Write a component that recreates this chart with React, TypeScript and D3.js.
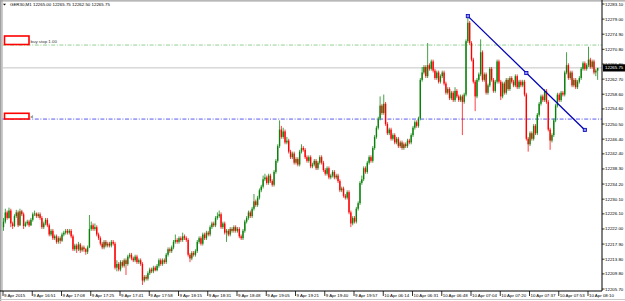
import React from 'react';
import * as d3 from 'd3';

const W = 625;
const H = 301;

const title = 'GER30,M1  12265.00 12265.75 12262.50 12265.75';

const opens = [
12222.5, 12224.0, 12226.5, 12225.0, 12227.0, 12223.5, 12222.8, 12225.5, 12226.5, 12223.0,
12226.8, 12226.0, 12222.8, 12223.5, 12224.0, 12223.0, 12224.5, 12226.0, 12226.2, 12225.5,
12226.0, 12225.0, 12222.5, 12223.5, 12224.5, 12223.0, 12220.5, 12221.5, 12219.5, 12220.0,
12218.5, 12219.5, 12218.8, 12220.5, 12221.0, 12221.5, 12221.0, 12221.5, 12220.0, 12216.5,
12217.5, 12216.5, 12217.8, 12216.2, 12217.0, 12216.5, 12215.8, 12217.0, 12222.0, 12223.0,
12222.0, 12222.5, 12220.5, 12219.5, 12218.0, 12217.0, 12218.5, 12217.5, 12218.0, 12217.5,
12218.5, 12218.0, 12211.5, 12212.5, 12211.0, 12213.0, 12212.0, 12213.5, 12212.5, 12214.5,
12215.0, 12214.0, 12213.5, 12214.5, 12213.0, 12213.5, 12212.5, 12208.0, 12209.0, 12208.5,
12210.0, 12211.0, 12210.5, 12211.5, 12210.8, 12212.0, 12213.5, 12212.5, 12213.5, 12213.0,
12215.0, 12216.5, 12216.0, 12217.0, 12218.5, 12219.0, 12218.5, 12219.5, 12219.0, 12220.0,
12219.5, 12219.0, 12215.0, 12214.0, 12215.5, 12215.0, 12216.0, 12218.5, 12219.5, 12218.0,
12220.5, 12219.5, 12221.0, 12220.5, 12222.5, 12223.5, 12223.0, 12225.0, 12225.5, 12226.0,
12222.5, 12223.5, 12221.0, 12221.5, 12220.5, 12222.0, 12221.5, 12222.5, 12221.5, 12222.0,
12220.0, 12219.5, 12221.5, 12224.0, 12225.0, 12226.5, 12225.5, 12227.5, 12229.5, 12228.5,
12230.5, 12232.5, 12233.5, 12235.5, 12236.0, 12234.5, 12236.5, 12235.0, 12234.0, 12237.5,
12240.5, 12244.5, 12249.0, 12247.0, 12248.5, 12245.5, 12246.0, 12243.0, 12241.5, 12242.5,
12240.0, 12241.0, 12239.5, 12243.0, 12244.0, 12243.5, 12241.5, 12240.5, 12241.5, 12239.0,
12239.5, 12240.5, 12238.5, 12240.0, 12241.5, 12240.0, 12238.0, 12237.0, 12238.5, 12236.0,
12236.5, 12237.5, 12236.0, 12236.5, 12235.0, 12232.5, 12233.0, 12231.0, 12230.5, 12232.0,
12226.5, 12223.5, 12225.0, 12224.0, 12227.5, 12229.0, 12234.5, 12235.5, 12238.5, 12237.5,
12240.0, 12241.5, 12240.5, 12244.0, 12247.0, 12249.5, 12252.0, 12255.5, 12253.5, 12256.0,
12250.5, 12248.0, 12249.0, 12246.5, 12247.5, 12245.5, 12246.5, 12244.5, 12245.5, 12244.0,
12245.0, 12244.5, 12246.0, 12245.5, 12247.5, 12249.5, 12251.0, 12250.0, 12252.0, 12262.5,
12264.5, 12266.0, 12263.5, 12266.5, 12265.5, 12267.5, 12265.0, 12263.0, 12264.5, 12262.0,
12263.5, 12264.5, 12261.5, 12259.0, 12260.0, 12257.5, 12259.0, 12257.0, 12259.5, 12258.0,
12257.0, 12258.0, 12256.5, 12258.5, 12273.0, 12278.0, 12272.5, 12268.0, 12262.0, 12258.0,
12262.5, 12264.0, 12270.0, 12262.5, 12264.0, 12259.0, 12261.0, 12265.5, 12262.5, 12259.5,
12262.0, 12267.5, 12262.0, 12258.0, 12261.5, 12259.0, 12262.5, 12260.0, 12263.0, 12262.0,
12261.0, 12263.5, 12260.5, 12262.0, 12261.0, 12262.0, 12258.5, 12246.5, 12245.0, 12248.0,
12246.5, 12250.0, 12248.0, 12253.0, 12256.0, 12258.0, 12257.0, 12259.5, 12256.5, 12249.0,
12246.0, 12247.5, 12251.5, 12255.5, 12258.5, 12257.0, 12259.0, 12258.5, 12264.5, 12266.5,
12263.0, 12264.5, 12261.0, 12262.5, 12260.5, 12262.0, 12263.0, 12265.5, 12267.0, 12265.5,
12266.5, 12268.0, 12266.0, 12267.5, 12264.5, 12265.0,
];

const closes = [
12224.0, 12226.5, 12225.0, 12227.0, 12223.5, 12222.8, 12225.5, 12226.5, 12223.0, 12226.8,
12226.0, 12222.8, 12223.5, 12224.0, 12223.0, 12224.5, 12226.0, 12226.2, 12225.5, 12226.0,
12225.0, 12222.5, 12223.5, 12224.5, 12223.0, 12220.5, 12221.5, 12219.5, 12220.0, 12218.5,
12219.5, 12218.8, 12220.5, 12221.0, 12221.5, 12221.0, 12221.5, 12220.0, 12216.5, 12217.5,
12216.5, 12217.8, 12216.2, 12217.0, 12216.5, 12215.8, 12217.0, 12222.0, 12223.0, 12222.0,
12222.5, 12220.5, 12219.5, 12218.0, 12217.0, 12218.5, 12217.5, 12218.0, 12217.5, 12218.5,
12218.0, 12211.5, 12212.5, 12211.0, 12213.0, 12212.0, 12213.5, 12212.5, 12214.5, 12215.0,
12214.0, 12213.5, 12214.5, 12213.0, 12213.5, 12212.5, 12208.0, 12209.0, 12208.5, 12210.0,
12211.0, 12210.5, 12211.5, 12210.8, 12212.0, 12213.5, 12212.5, 12213.5, 12213.0, 12215.0,
12216.5, 12216.0, 12217.0, 12218.5, 12219.0, 12218.5, 12219.5, 12219.0, 12220.0, 12219.5,
12219.0, 12215.0, 12214.0, 12215.5, 12215.0, 12216.0, 12218.5, 12219.5, 12218.0, 12220.5,
12219.5, 12221.0, 12220.5, 12222.5, 12223.5, 12223.0, 12225.0, 12225.5, 12226.0, 12222.5,
12223.5, 12221.0, 12221.5, 12220.5, 12222.0, 12221.5, 12222.5, 12221.5, 12222.0, 12220.0,
12219.5, 12221.5, 12224.0, 12225.0, 12226.5, 12225.5, 12227.5, 12229.5, 12228.5, 12230.5,
12232.5, 12233.5, 12235.5, 12236.0, 12234.5, 12236.5, 12235.0, 12234.0, 12237.5, 12240.5,
12244.5, 12249.0, 12247.0, 12248.5, 12245.5, 12246.0, 12243.0, 12241.5, 12242.5, 12240.0,
12241.0, 12239.5, 12243.0, 12244.0, 12243.5, 12241.5, 12240.5, 12241.5, 12239.0, 12239.5,
12240.5, 12238.5, 12240.0, 12241.5, 12240.0, 12238.0, 12237.0, 12238.5, 12236.0, 12236.5,
12237.5, 12236.0, 12236.5, 12235.0, 12232.5, 12233.0, 12231.0, 12230.5, 12232.0, 12226.5,
12223.5, 12225.0, 12224.0, 12227.5, 12229.0, 12234.5, 12235.5, 12238.5, 12237.5, 12240.0,
12241.5, 12240.5, 12244.0, 12247.0, 12249.5, 12252.0, 12255.5, 12253.5, 12256.0, 12250.5,
12248.0, 12249.0, 12246.5, 12247.5, 12245.5, 12246.5, 12244.5, 12245.5, 12244.0, 12245.0,
12244.5, 12246.0, 12245.5, 12247.5, 12249.5, 12251.0, 12250.0, 12252.0, 12262.5, 12264.5,
12266.0, 12263.5, 12266.5, 12265.5, 12267.5, 12265.0, 12263.0, 12264.5, 12262.0, 12263.5,
12264.5, 12261.5, 12259.0, 12260.0, 12257.5, 12259.0, 12257.0, 12259.5, 12258.0, 12257.0,
12258.0, 12256.5, 12258.5, 12273.0, 12278.0, 12272.5, 12268.0, 12262.0, 12258.0, 12262.5,
12264.0, 12270.0, 12262.5, 12264.0, 12259.0, 12261.0, 12265.5, 12262.5, 12259.5, 12262.0,
12267.5, 12262.0, 12258.0, 12261.5, 12259.0, 12262.5, 12260.0, 12263.0, 12262.0, 12261.0,
12263.5, 12260.5, 12262.0, 12261.0, 12262.0, 12258.5, 12246.5, 12245.0, 12248.0, 12246.5,
12250.0, 12248.0, 12253.0, 12256.0, 12258.0, 12257.0, 12259.5, 12256.5, 12249.0, 12246.0,
12247.5, 12251.5, 12255.5, 12258.5, 12257.0, 12259.0, 12258.5, 12264.5, 12266.5, 12263.0,
12264.5, 12261.0, 12262.5, 12260.5, 12262.0, 12263.0, 12265.5, 12267.0, 12265.5, 12266.5,
12268.0, 12266.0, 12267.5, 12264.5, 12265.0, 12265.75,
];

const highs = [
12225.0, 12227.5, 12227.0, 12227.8, 12227.5, 12224.0, 12226.0, 12227.2, 12227.0, 12227.5,
12227.2, 12226.5, 12224.0, 12224.5, 12224.5, 12225.0, 12226.5, 12227.0, 12226.5, 12226.5,
12226.5, 12225.5, 12224.0, 12225.0, 12225.0, 12223.5, 12222.0, 12222.0, 12220.5, 12220.5,
12220.0, 12220.0, 12221.0, 12221.5, 12222.0, 12222.0, 12222.0, 12222.0, 12220.5, 12218.0,
12218.0, 12218.5, 12218.2, 12217.5, 12217.5, 12216.8, 12217.5, 12225.8, 12224.0, 12223.5,
12223.5, 12223.0, 12221.0, 12220.0, 12218.5, 12219.0, 12219.0, 12218.5, 12218.5, 12219.0,
12219.0, 12218.5, 12213.5, 12213.0, 12213.5, 12213.5, 12214.0, 12214.0, 12215.0, 12215.5,
12215.5, 12214.5, 12215.0, 12215.0, 12214.0, 12214.0, 12213.0, 12209.5, 12209.5, 12210.5,
12211.5, 12211.5, 12212.0, 12212.0, 12212.5, 12214.0, 12214.0, 12214.0, 12214.0, 12215.5,
12217.0, 12217.0, 12217.5, 12219.0, 12220.5, 12219.5, 12220.0, 12220.0, 12221.0, 12220.5,
12220.0, 12219.5, 12215.5, 12216.0, 12216.0, 12216.5, 12219.0, 12220.0, 12220.0, 12221.0,
12221.0, 12221.5, 12221.5, 12223.0, 12224.0, 12224.0, 12225.5, 12226.5, 12227.0, 12226.5,
12224.0, 12224.0, 12222.0, 12222.0, 12222.5, 12222.5, 12223.0, 12223.0, 12222.5, 12222.5,
12220.5, 12222.0, 12224.5, 12225.5, 12227.0, 12227.0, 12228.0, 12231.5, 12230.0, 12231.0,
12233.0, 12234.0, 12236.5, 12237.0, 12236.5, 12237.0, 12237.0, 12235.5, 12238.0, 12241.0,
12245.0, 12251.5, 12250.0, 12249.5, 12249.0, 12247.0, 12246.5, 12243.5, 12243.0, 12243.0,
12241.5, 12241.5, 12243.5, 12245.0, 12244.5, 12244.0, 12242.0, 12242.0, 12242.0, 12240.0,
12241.0, 12241.0, 12240.5, 12242.0, 12242.0, 12240.5, 12238.5, 12239.0, 12239.0, 12237.0,
12238.0, 12238.0, 12237.0, 12237.0, 12235.5, 12233.5, 12233.5, 12231.5, 12232.5, 12232.5,
12227.0, 12225.5, 12225.5, 12228.0, 12229.5, 12235.0, 12236.5, 12239.0, 12239.0, 12240.5,
12242.0, 12242.0, 12244.5, 12247.5, 12250.0, 12252.5, 12258.0, 12256.0, 12258.5, 12256.5,
12251.0, 12249.5, 12249.5, 12248.0, 12248.0, 12247.0, 12247.0, 12246.0, 12246.0, 12245.5,
12245.5, 12246.5, 12246.5, 12248.0, 12250.0, 12251.5, 12251.5, 12252.5, 12263.0, 12266.0,
12266.5, 12266.5, 12272.5, 12267.0, 12268.0, 12268.0, 12265.5, 12265.0, 12265.0, 12264.0,
12265.0, 12265.0, 12262.0, 12260.5, 12260.5, 12259.5, 12259.5, 12260.5, 12260.0, 12258.5,
12258.5, 12258.5, 12259.0, 12273.5, 12279.8, 12278.5, 12273.0, 12268.5, 12262.5, 12263.0,
12264.5, 12273.5, 12270.5, 12264.5, 12264.5, 12261.5, 12266.0, 12266.0, 12263.0, 12262.5,
12268.0, 12268.0, 12262.5, 12262.0, 12262.0, 12263.0, 12263.0, 12263.5, 12263.5, 12262.5,
12264.0, 12264.0, 12262.5, 12262.5, 12262.5, 12262.5, 12259.0, 12247.0, 12248.5, 12248.5,
12250.5, 12250.5, 12253.5, 12256.5, 12258.5, 12258.5, 12260.0, 12260.0, 12257.0, 12249.5,
12248.0, 12252.0, 12256.0, 12259.0, 12259.0, 12259.5, 12259.5, 12265.0, 12270.0, 12267.0,
12265.0, 12265.0, 12263.0, 12263.0, 12262.5, 12263.5, 12266.0, 12267.5, 12267.5, 12267.0,
12271.5, 12268.5, 12268.0, 12268.0, 12265.5, 12265.75,
];

const lows = [
12221.5, 12223.5, 12224.5, 12224.8, 12222.5, 12222.0, 12222.5, 12225.0, 12222.5, 12222.8,
12225.5, 12222.0, 12222.5, 12223.0, 12222.5, 12222.8, 12224.0, 12225.5, 12225.0, 12225.0,
12224.5, 12222.0, 12222.0, 12223.0, 12222.5, 12220.0, 12220.0, 12219.0, 12219.0, 12218.0,
12218.0, 12218.0, 12218.5, 12220.0, 12220.5, 12220.5, 12220.5, 12219.5, 12216.0, 12216.0,
12215.5, 12216.0, 12215.5, 12215.8, 12215.8, 12215.0, 12215.2, 12216.8, 12221.5, 12221.5,
12221.5, 12220.0, 12219.0, 12217.5, 12216.5, 12216.5, 12217.0, 12217.0, 12217.0, 12217.0,
12217.5, 12211.0, 12210.5, 12210.5, 12210.5, 12211.5, 12211.5, 12209.5, 12212.0, 12214.0,
12213.5, 12213.0, 12213.0, 12212.5, 12212.5, 12212.0, 12206.8, 12207.5, 12208.0, 12208.0,
12209.5, 12210.0, 12210.0, 12210.5, 12210.5, 12211.5, 12212.0, 12212.0, 12212.5, 12212.5,
12214.5, 12215.5, 12215.5, 12216.5, 12218.0, 12218.0, 12218.0, 12218.5, 12218.5, 12219.0,
12218.5, 12214.5, 12213.0, 12213.5, 12214.5, 12214.5, 12215.5, 12218.0, 12217.5, 12217.5,
12219.0, 12219.0, 12220.0, 12220.0, 12222.0, 12222.5, 12222.5, 12224.5, 12225.0, 12222.0,
12222.0, 12220.5, 12218.5, 12220.0, 12220.0, 12221.0, 12221.0, 12221.0, 12221.0, 12219.5,
12219.0, 12219.0, 12221.0, 12223.5, 12224.5, 12225.0, 12225.0, 12227.0, 12228.0, 12228.0,
12230.0, 12232.0, 12233.0, 12235.0, 12234.0, 12234.0, 12234.5, 12233.5, 12233.5, 12237.0,
12240.0, 12244.0, 12246.5, 12246.5, 12245.0, 12245.0, 12242.5, 12241.0, 12241.0, 12239.5,
12239.5, 12239.0, 12239.0, 12242.5, 12243.0, 12241.0, 12240.0, 12240.0, 12238.5, 12238.5,
12239.0, 12238.0, 12238.0, 12239.5, 12239.5, 12237.5, 12236.5, 12236.5, 12235.5, 12235.5,
12236.0, 12235.5, 12235.5, 12234.5, 12232.0, 12232.0, 12230.5, 12230.0, 12230.0, 12226.0,
12222.5, 12223.0, 12223.5, 12223.5, 12227.0, 12228.5, 12234.0, 12235.0, 12237.0, 12237.0,
12239.5, 12240.0, 12240.0, 12243.5, 12246.5, 12249.0, 12251.5, 12253.0, 12253.0, 12250.0,
12247.5, 12247.5, 12246.0, 12246.0, 12245.0, 12245.0, 12244.0, 12244.0, 12243.5, 12243.5,
12244.0, 12244.0, 12245.0, 12245.0, 12247.0, 12249.0, 12249.5, 12249.5, 12251.5, 12262.0,
12264.0, 12263.0, 12263.0, 12265.0, 12265.0, 12264.5, 12262.5, 12262.5, 12261.5, 12261.5,
12263.0, 12261.0, 12258.5, 12258.5, 12257.0, 12257.0, 12256.5, 12256.5, 12257.5, 12256.5,
12256.5, 12247.5, 12256.0, 12258.0, 12272.5, 12272.0, 12267.5, 12261.5, 12254.0, 12257.5,
12262.0, 12263.5, 12262.0, 12262.0, 12258.5, 12258.5, 12260.5, 12262.0, 12259.0, 12259.0,
12261.5, 12261.5, 12257.0, 12257.5, 12258.5, 12258.5, 12259.5, 12259.5, 12261.5, 12260.5,
12260.5, 12260.0, 12260.0, 12260.5, 12260.5, 12258.0, 12246.0, 12243.0, 12244.5, 12246.0,
12246.0, 12247.5, 12247.5, 12252.5, 12255.5, 12256.5, 12256.5, 12256.0, 12248.5, 12243.5,
12245.5, 12247.0, 12251.0, 12255.0, 12256.5, 12256.5, 12258.0, 12258.0, 12264.0, 12262.5,
12262.5, 12260.5, 12260.5, 12260.0, 12260.0, 12261.5, 12262.5, 12265.0, 12265.0, 12265.0,
12266.0, 12265.5, 12265.5, 12264.0, 12263.5, 12262.5,
];

const priceTicks = [
  12283.10, 12279.00, 12274.90, 12270.80, 12266.80, 12262.70, 12258.60, 12254.60, 12250.50, 12246.40,
  12242.40, 12238.30, 12234.20, 12230.10, 12226.10, 12222.00, 12217.90, 12213.80, 12209.80, 12205.70,
];

const timeLabels = [
  '9 Apr 2015', '9 Apr 16:51', '9 Apr 17:08', '9 Apr 17:25', '9 Apr 17:41', '9 Apr 17:58',
  '9 Apr 18:15', '9 Apr 18:31', '9 Apr 18:48', '9 Apr 19:05', '9 Apr 19:21', '9 Apr 19:40',
  '9 Apr 19:57', '10 Apr 06:14', '10 Apr 06:31', '10 Apr 06:48', '10 Apr 07:04', '10 Apr 07:20',
  '10 Apr 07:37', '10 Apr 07:53', '10 Apr 08:10',
];
const timeLabelBars = [0, 16, 32, 48, 64, 80, 96, 112, 128, 144, 160, 176, 192, 208, 224, 240, 256, 272, 288, 304, 320];

const currentPrice = 12265.75;
const buyStopLevel = 12271.95;
const stopLevel = 12251.85;
const trendBars = [254, 318];
const trendPrices = [12279.8, 12248.9];

const PLOT_RIGHT = 602;
const PLOT_BOTTOM = 291;
const FONT = '"Liberation Sans", Arial, sans-serif';

export default function App() {
  const x = d3.scaleLinear().domain([0, 320]).range([3.5, 588.5]);
  const y = d3.scaleLinear().domain([12205.7, 12283.1]).range([289, 4]);
  const bw = 1.4;
  const up = '#0a820a';
  const down = '#ff0000';

  const tx0 = x(trendBars[0]);
  const ty0 = y(trendPrices[0]);
  const tx1 = x(trendBars[1]);
  const ty1 = y(trendPrices[1]);
  const handles = [
    [tx0, ty0],
    [(tx0 + tx1) / 2, (ty0 + ty1) / 2],
    [tx1, ty1],
  ];

  return (
    <svg width={W} height={H} style={{ position: 'absolute', left: 0, top: 0, background: '#fff' }}
      fontFamily={FONT}>
      <rect x={0} y={0} width={W} height={H} fill="#fff" />
      <line x1={0.5} y1={0} x2={0.5} y2={H} stroke="#a0a0a0" strokeWidth={1.5} />
      <line x1={0} y1={0.8} x2={W} y2={0.8} stroke="#a0a0a0" strokeWidth={1.2} />
      <line x1={0} y1={299.5} x2={W} y2={299.5} stroke="#c8c8c8" strokeWidth={1} />
      <line x1={2} y1={0} x2={2} y2={PLOT_BOTTOM} stroke="#9a9a9a" strokeWidth={1} />

      <defs>
        <clipPath id="plot">
          <rect x={2.5} y={1.5} width={PLOT_RIGHT - 2.5} height={PLOT_BOTTOM - 1.5} />
        </clipPath>
      </defs>

      <g clipPath="url(#plot)">
        <line x1={2} x2={PLOT_RIGHT} y1={y(currentPrice)} y2={y(currentPrice)} stroke="#c4c4c4" strokeWidth={1} />
        <line x1={2} x2={PLOT_RIGHT} y1={y(buyStopLevel)} y2={y(buyStopLevel)} stroke="#93cf93"
          strokeWidth={1} strokeDasharray="4,1.6,1,1.6" />
        <line x1={2} x2={PLOT_RIGHT} y1={y(stopLevel)} y2={y(stopLevel)} stroke="#5a5af0"
          strokeWidth={1} strokeDasharray="4,1.6,1,1.6" />

        {closes.map((c, i) => {
          const o = opens[i];
          const col = c >= o ? up : down;
          const cx = x(i);
          const yt = y(Math.max(o, c));
          const yb = y(Math.min(o, c));
          return (
            <g key={i}>
              <line x1={cx} x2={cx} y1={y(highs[i])} y2={y(lows[i])} stroke={col} strokeWidth={0.75} />
              <rect x={cx - bw / 2} y={yt} width={bw} height={Math.max(0.7, yb - yt)} fill={col} />
            </g>
          );
        })}

        <line x1={tx0} y1={ty0} x2={tx1} y2={ty1} stroke="#0000b4" strokeWidth={1.3} />
        {handles.map(([hx, hy], k) => (
          <rect key={k} x={hx - 1.6} y={hy - 1.6} width={3.2} height={3.2} fill="#9090ff" stroke="#0000b4" strokeWidth={0.8} />
        ))}

        <rect x={4.5} y={36} width={24.5} height={8.5} fill="#fff" stroke="#ff0000" strokeWidth={1.6} />
        <text x={30.5} y={42.8} fontSize={4.4} fill="#333">buy stop 1.00</text>
        <rect x={4.5} y={113.3} width={24.5} height={5.7} fill="#fff" stroke="#ff0000" strokeWidth={1.6} />
        <text x={30.5} y={118} fontSize={4.4} fill="#333">d</text>
      </g>

      <path d="M3,3.8 L6,3.8 L4.5,5.6 Z" fill="#000" />
      <text x={10} y={6.3} fontSize={4.4} fill="#000">{title}</text>

      <line x1={PLOT_RIGHT} x2={PLOT_RIGHT} y1={0} y2={PLOT_BOTTOM} stroke="#000" strokeWidth={1} />
      {priceTicks.map((p) => (
        <g key={p}>
          <line x1={PLOT_RIGHT} x2={PLOT_RIGHT + 2.5} y1={y(p)} y2={y(p)} stroke="#000" strokeWidth={0.8} />
          <text x={PLOT_RIGHT + 3} y={y(p) + 1.5} fontSize={4.4} fill="#000">{p.toFixed(2)}</text>
        </g>
      ))}
      <rect x={PLOT_RIGHT + 1} y={y(currentPrice) - 3.6} width={W - PLOT_RIGHT - 1} height={7.2} fill="#000" />
      <text x={PLOT_RIGHT + 3} y={y(currentPrice) + 1.5} fontSize={4.4} fill="#fff">{currentPrice.toFixed(2)}</text>

      <line x1={0} x2={PLOT_RIGHT} y1={PLOT_BOTTOM} y2={PLOT_BOTTOM} stroke="#000" strokeWidth={1} />
      {timeLabels.map((t, k) => (
        <g key={t}>
          <line x1={x(timeLabelBars[k]) - 0.5} x2={x(timeLabelBars[k]) - 0.5} y1={PLOT_BOTTOM} y2={PLOT_BOTTOM + 5}
            stroke="#000" strokeWidth={0.8} />
          <text x={x(timeLabelBars[k]) + 0.5} y={297.2} fontSize={4.4} fill="#000">{t}</text>
        </g>
      ))}
    </svg>
  );
}
